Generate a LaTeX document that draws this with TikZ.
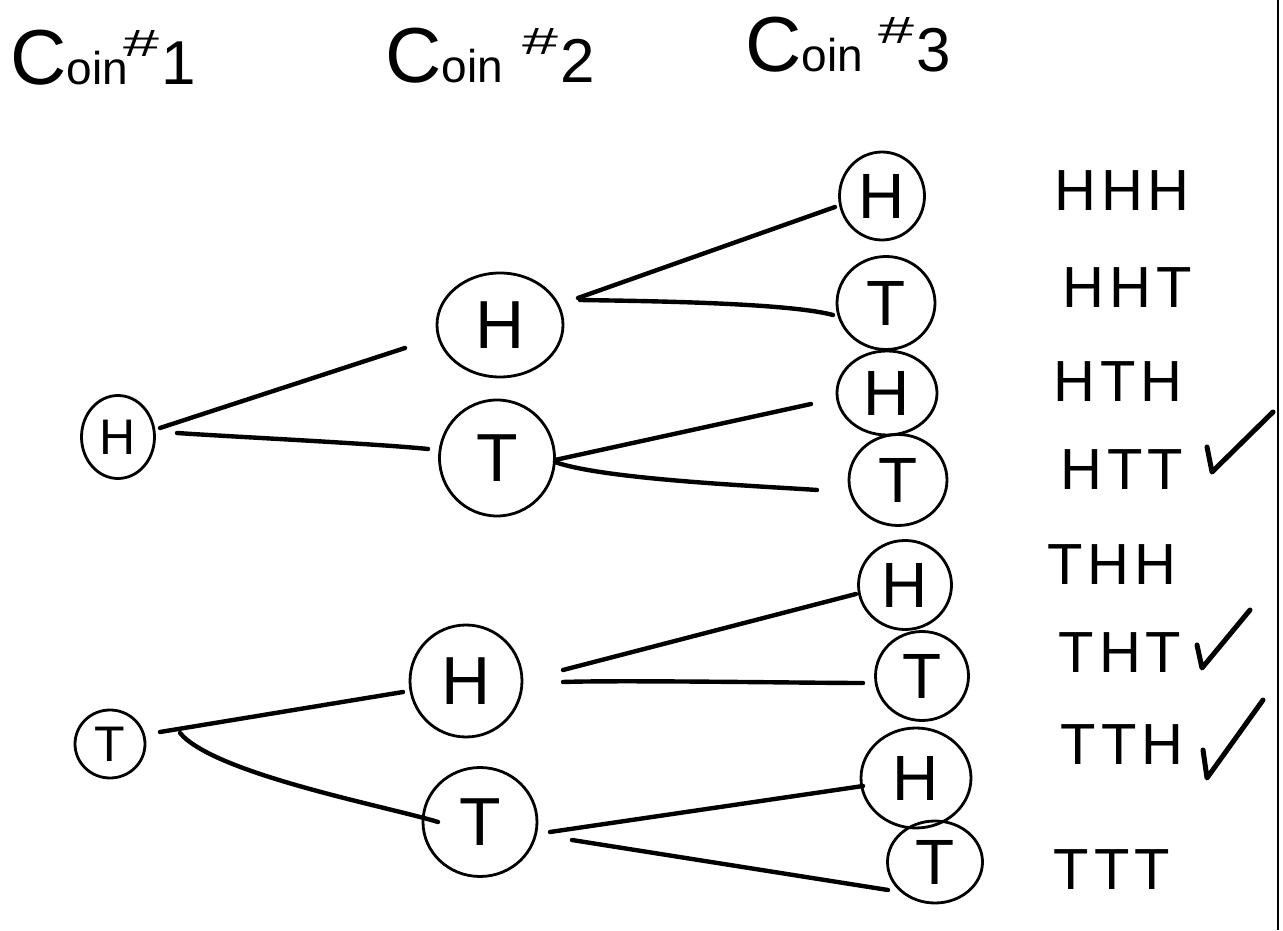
\documentclass[tikz,border=0pt]{standalone}
\usepackage{fontspec}
\setmainfont{Liberation Sans}
\usetikzlibrary{shapes.geometric}
\begin{document}
\begin{tikzpicture}[x=1pt,y=1pt,
  coin/.style={draw, ellipse, line width=2.8pt, inner sep=0pt},
  small/.style={coin, font=\fontsize{50}{50}\selectfont},
  big/.style={coin, font=\fontsize{68}{68}\selectfont},
  leaf/.style={coin, font=\fontsize{64}{64}\selectfont},
  edge/.style={line width=4.4pt, line cap=round},
  outc/.style={font=\fontsize{58}{58}\selectfont, inner sep=0pt},
  tick/.style={line width=5pt, line cap=round, line join=round},
  title/.style={inner sep=0pt, anchor=base west}]
\useasboundingbox (0,0) rectangle (1283,930);
% border line at right
\coordinate (bt) at (1278,930);
\coordinate (bb) at (1278,0);
\draw[line width=2.8pt] (bt) -- (bb);
% titles
\newcommand{\cointitle}[2]{{\fontsize{78}{78}\selectfont C}{\fontsize{46}{46}\selectfont oin}\hspace{#1}\raisebox{28pt}{\fontsize{38}{38}\selectfont\scalebox{1.7}[1]{\#}}\hspace{2pt}{\fontsize{62}{62}\selectfont #2}}
\node[title] (t1) at (10,845) {\cointitle{-4pt}{1}};
\node[title] (t2) at (385,847) {\cointitle{20pt}{2}};
\node[title] (t3) at (745,858) {\cointitle{16pt}{3}};
% level 1
\node[small, minimum width=73, minimum height=83] (H1) at (118,493) {H};
\node[small, minimum width=70, minimum height=68] (T1) at (110,186) {T};
% level 2
\node[big, minimum width=126, minimum height=104] (H2a) at (500,605) {H};
\node[big, minimum width=115, minimum height=116] (T2a) at (497,472) {T};
\node[big, minimum width=112, minimum height=112] (H2b) at (466,249) {H};
\node[big, minimum width=114, minimum height=109] (T2b) at (480,108) {T};
% level 3
\node[leaf, minimum width=85, minimum height=88] (H3a) at (882,734) {H};
\node[leaf, minimum width=98, minimum height=93] (T3b) at (886,627) {T};
\node[leaf, minimum width=100, minimum height=84] (H3c) at (887,537) {H};
\node[leaf, minimum width=98, minimum height=91] (T3d) at (898,450) {T};
\node[leaf, minimum width=93, minimum height=89] (H3e) at (905,345) {H};
\node[leaf, minimum width=93, minimum height=89] (T3f) at (922,254) {T};
\node[leaf, minimum width=110, minimum height=100] (H3g) at (916,152) {H};
\node[leaf, minimum width=95, minimum height=82] (T3h) at (935,68) {T};
% edges
\draw[edge] ([shift={(42,9)}]H1.center) -- ([shift={(-95,-23)}]H2a.center);
\draw[edge] ([shift={(59,4)}]H1.center) to[out=-4,in=174,looseness=0.5] ([shift={(-69,9)}]T2a.center);
\draw[edge] ([shift={(78,27)}]H2a.center) -- ([shift={(-47,-11)}]H3a.center);
\draw[edge] ([shift={(80,25)}]H2a.center) to[out=-1,in=165,looseness=0.5] ([shift={(-53,-12)}]T3b.center);
\draw[edge] ([shift={(58,-2)}]T2a.center) -- ([shift={(-76,-11)}]H3c.center);
\draw[edge] ([shift={(58,-4)}]T2a.center) to[out=-20,in=176,looseness=0.5] ([shift={(-81,-10)}]T3d.center);
\draw[edge] ([shift={(50,12)}]T1.center) -- ([shift={(-63,-11)}]H2b.center);
\draw[edge] ([shift={(70,11)}]T1.center) to[out=-50,in=163,looseness=0.5] ([shift={(-42,0)}]T2b.center);
\draw[edge] ([shift={(97,11)}]H2b.center) -- ([shift={(-49,-9)}]H3e.center);
\draw[edge] ([shift={(97,-1)}]H2b.center) to[out=2,in=180,looseness=0.5] ([shift={(-59,-7)}]T3f.center);
\draw[edge] ([shift={(70,-10)}]T2b.center) -- ([shift={(-53,-8)}]H3g.center);
\draw[edge] ([shift={(92,-18)}]T2b.center) -- ([shift={(-47,-28)}]T3h.center);
% outcomes
\newcommand{\ltrgap}{\hspace{5pt}}
\node[outc] (o1) at (1122,739) {H\ltrgap H\ltrgap H};
\node[outc] (o2) at (1127,642) {H\ltrgap H\ltrgap T};
\node[outc] (o3) at (1118,548) {H\ltrgap T\ltrgap H};
\node[outc] (o4) at (1122,460) {H\ltrgap T\ltrgap T};
\node[outc] (o5) at (1112,365) {T\ltrgap H\ltrgap H};
\node[outc] (o6) at (1120,277) {T\ltrgap H\ltrgap T};
\node[outc] (o7) at (1122,185) {T\ltrgap T\ltrgap H};
\node[outc] (o8) at (1112,60) {T\ltrgap T\ltrgap T};
% check marks
\draw[tick] ([shift={(85,23)}]o4.center) -- ([shift={(90,-2)}]o4.center) -- ([shift={(151,58)}]o4.center);
\draw[tick] ([shift={(77,8)}]o6.center) -- ([shift={(82,-15)}]o6.center) -- ([shift={(130,43)}]o6.center);
\draw[tick] ([shift={(81,-5)}]o7.center) -- ([shift={(85,-33)}]o7.center) -- ([shift={(141,45)}]o7.center);
\end{tikzpicture}
\end{document}
